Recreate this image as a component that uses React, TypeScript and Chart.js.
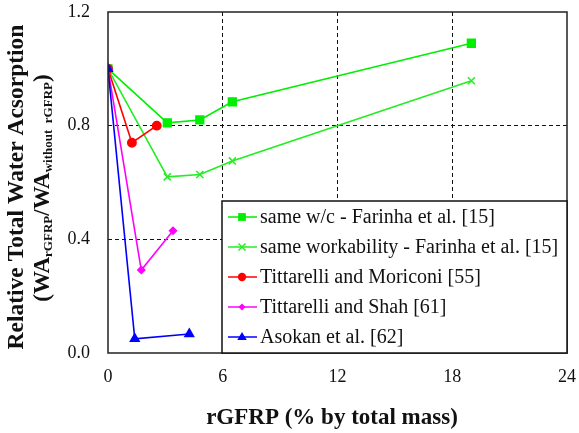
import React, { useEffect, useRef } from "react";
import { Chart, registerables } from "chart.js";

Chart.register(...registerables);

const sameWcX = [0, 3.1, 4.8, 6.5, 19.0];
const sameWcY = [1.0, 0.81, 0.82, 0.884, 1.09];
const sameWorkX = [0, 3.1, 4.8, 6.5, 19.0];
const sameWorkY = [1.0, 0.62, 0.628, 0.676, 0.958];
const moriconiX = [0, 1.25, 2.55];
const moriconiY = [1.0, 0.74, 0.80];
const shahX = [0, 1.74, 3.4];
const shahY = [1.0, 0.292, 0.43];
const asokanX = [0, 1.4, 4.25];
const asokanY = [1.0, 0.05, 0.067];

const seriesLabels = [
  "same w/c - Farinha et al. [15]",
  "same workability - Farinha et al. [15]",
  "Tittarelli and Moriconi [55]",
  "Tittarelli and Shah [61]",
  "Asokan et al. [62]",
];
const seriesColors = ["#00ee00", "#22ee22", "#ff0000", "#ff00ff", "#0000ff"];
const seriesStyles = ["rect", "crossRot", "circle", "rectRot", "triangle"];
const seriesRadius = [5.5, 5, 4.2, 3.5, 5];

const xTicks = [0, 6, 12, 18, 24];
const yTicks = [0, 0.4, 0.8, 1.2];

const xTitle = "rGFRP (% by total mass)";
const yTitle1 = "Relative Total Water Acsorption";

const SERIF = "'Liberation Serif', 'Times New Roman', serif";

function pts(xs: number[], ys: number[]) {
  return xs.map((x, i) => ({ x, y: ys[i] }));
}

function drawMarker(ctx: any, style: string, r: number, x: number, y: number) {
  ctx.save();
  ctx.lineWidth = 1.5;
  ctx.beginPath();
  if (style === "rect") {
    const s = r * Math.SQRT1_2;
    ctx.rect(x - s, y - s, 2 * s, 2 * s);
    ctx.fill();
  } else if (style === "crossRot") {
    const s = r * Math.SQRT1_2;
    ctx.moveTo(x - s, y - s);
    ctx.lineTo(x + s, y + s);
    ctx.moveTo(x - s, y + s);
    ctx.lineTo(x + s, y - s);
    ctx.stroke();
  } else if (style === "circle") {
    ctx.arc(x, y, r, 0, Math.PI * 2);
    ctx.fill();
  } else if (style === "rectRot") {
    ctx.moveTo(x, y - r);
    ctx.lineTo(x + r, y);
    ctx.lineTo(x, y + r);
    ctx.lineTo(x - r, y);
    ctx.closePath();
    ctx.fill();
  } else if (style === "triangle") {
    ctx.moveTo(x, y - r);
    ctx.lineTo(x + r * 0.95, y + r * 0.6);
    ctx.lineTo(x - r * 0.95, y + r * 0.6);
    ctx.closePath();
    ctx.fill();
  }
  ctx.restore();
}

const framePlugin = {
  id: "frameAndTitles",
  afterDatasetsDraw(chart: any) {
    const { ctx, chartArea } = chart;
    const { left, right, top, bottom } = chartArea;
    ctx.save();
    ctx.strokeStyle = "#222";
    ctx.lineWidth = 1.5;
    ctx.setLineDash([]);
    ctx.strokeRect(left, top, right - left, bottom - top);

    // legend
    const lx = 222, ly = 201, lw = right - 222, lh = bottom - 201;
    ctx.fillStyle = "#fff";
    ctx.fillRect(lx, ly, lw, lh);
    ctx.strokeStyle = "#111";
    ctx.lineWidth = 1.5;
    ctx.strokeRect(lx, ly, lw, lh);
    ctx.font = `20px ${SERIF}`;
    ctx.textBaseline = "middle";
    ctx.textAlign = "left";
    const rowStart = 217;
    const rowGap = 30;
    seriesLabels.forEach((label, i) => {
      const y = rowStart + i * rowGap;
      const col = seriesColors[i];
      ctx.strokeStyle = col;
      ctx.lineWidth = 1.5;
      ctx.beginPath();
      ctx.moveTo(228, y);
      ctx.lineTo(257, y);
      ctx.stroke();
      ctx.fillStyle = col;
      ctx.strokeStyle = col;
      drawMarker(ctx, seriesStyles[i], seriesRadius[i], 242, y);
      ctx.fillStyle = "#111";
      ctx.fillText(label, 260, y + 1);
    });

    // x title
    ctx.fillStyle = "#111";
    ctx.font = `bold 23px ${SERIF}`;
    ctx.textAlign = "center";
    ctx.textBaseline = "middle";
    ctx.fillText(xTitle, 332, 418);

    // y title line 1
    ctx.save();
    ctx.translate(17, 187);
    ctx.rotate(-Math.PI / 2);
    ctx.font = `bold 23.5px ${SERIF}`;
    ctx.textAlign = "center";
    ctx.textBaseline = "middle";
    ctx.fillText(yTitle1, 0, 0);
    ctx.restore();

    // y title line 2 with subscripts
    ctx.save();
    ctx.translate(42, 188);
    ctx.rotate(-Math.PI / 2);
    const big = `bold 23px ${SERIF}`;
    const small = `bold 13px ${SERIF}`;
    const parts: [string, boolean][] = [
      ["(WA", false],
      ["rGFRP", true],
      ["/WA", false],
      ["without  rGFRP", true],
      [")", false],
    ];
    let total = 0;
    parts.forEach(([t, s]) => {
      ctx.font = s ? small : big;
      total += ctx.measureText(t).width;
    });
    let cx = -total / 2;
    ctx.textAlign = "left";
    ctx.textBaseline = "alphabetic";
    parts.forEach(([t, s]) => {
      ctx.font = s ? small : big;
      ctx.fillText(t, cx, s ? 10 : 7);
      cx += ctx.measureText(t).width;
    });
    ctx.restore();

    ctx.restore();
  },
};

export default function App() {
  const ref = useRef<HTMLCanvasElement | null>(null);
  useEffect(() => {
    if (!ref.current) return;
    const xsList = [sameWcX, sameWorkX, moriconiX, shahX, asokanX];
    const ysList = [sameWcY, sameWorkY, moriconiY, shahY, asokanY];
    const datasets = seriesLabels.map((label, i) => ({
      label,
      data: pts(xsList[i], ysList[i]),
      order: seriesLabels.length - 1 - i,
      borderColor: seriesColors[i],
      backgroundColor: seriesColors[i],
      pointBackgroundColor: seriesColors[i],
      pointBorderColor: seriesColors[i],
      pointStyle: seriesStyles[i],
      pointRadius: seriesRadius[i],
      pointBorderWidth: 1.5,
      borderWidth: 1.6,
      showLine: true,
      tension: 0,
      fill: false,
    }));
    const chart = new Chart(ref.current, {
      type: "scatter",
      data: { datasets: datasets as any },
      options: {
        responsive: false,
        animation: false,
        layout: { padding: { left: 0, right: 12, top: 12, bottom: 0 } },
        plugins: {
          legend: { display: false },
          tooltip: { enabled: false },
          title: { display: false },
        },
        scales: {
          x: {
            type: "linear",
            min: 0,
            max: 24,
            afterFit: (s: any) => {
              s.height = 80;
              s.paddingLeft = 0;
              s.paddingRight = 0;
            },
            afterBuildTicks: (s: any) => {
              s.ticks = xTicks.map((v) => ({ value: v }));
            },
            ticks: {
              color: "#111",
              font: { family: SERIF, size: 18 },
              padding: 13,
              callback: (v: any) => String(v),
            },
            grid: {
              drawTicks: false,
              color: (c: any) =>
                c.tick && (c.tick.value === 0 || c.tick.value === 24) ? "rgba(0,0,0,0)" : "#111",
              lineWidth: 1,
            },
            border: { display: false, dash: [4, 3] },
          },
          y: {
            type: "linear",
            min: 0,
            max: 1.2,
            afterFit: (s: any) => {
              s.width = 108;
              s.paddingTop = 0;
              s.paddingBottom = 0;
            },
            afterBuildTicks: (s: any) => {
              s.ticks = yTicks.map((v) => ({ value: v }));
            },
            ticks: {
              color: "#111",
              font: { family: SERIF, size: 18 },
              padding: 18,
              callback: (v: any) => Number(v).toFixed(1),
            },
            grid: {
              drawTicks: false,
              color: (c: any) =>
                c.tick && (c.tick.value === 0 || c.tick.value === 1.2) ? "rgba(0,0,0,0)" : "#111",
              lineWidth: 1,
            },
            border: { display: false, dash: [4, 3] },
          },
        },
      } as any,
      plugins: [framePlugin],
    });
    return () => chart.destroy();
  }, []);
  return (
    <div style={{ position: "fixed", left: 0, top: 0, width: 579, height: 433, background: "#fff" }}>
      <canvas ref={ref} width={579} height={433} style={{ width: 579, height: 433 }} />
    </div>
  );
}
